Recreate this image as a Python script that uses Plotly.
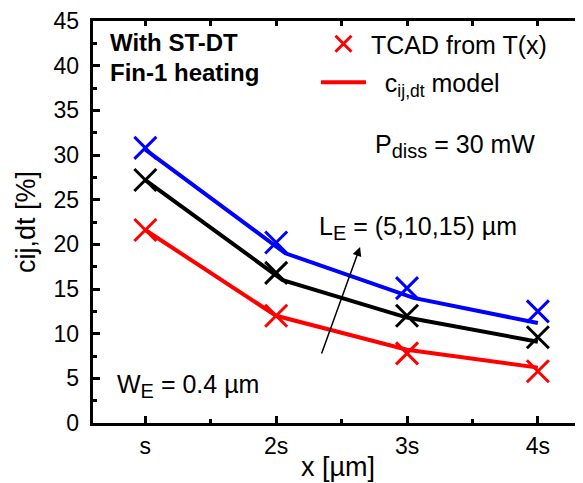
import plotly.graph_objects as go

# ---- data ----
x_labels = ["s", "2s", "3s", "4s"]
x_pos = [1, 2, 3, 4]

tcad_le5 = [21.6, 12.0, 7.8, 5.8]
tcad_le10 = [27.2, 16.8, 12.0, 9.6]
tcad_le15 = [30.8, 20.2, 15.1, 12.5]

model_x_le5 = [1.0, 2.0, 3.0, 4.0]
model_le5 = [21.6, 12.0, 8.2, 6.2]
model_x_le10 = [1.0, 2.05, 3.0, 4.0]
model_le10 = [27.2, 16.0, 11.8, 9.1]
model_x_le15 = [1.0, 2.07, 3.05, 4.0]
model_le15 = [30.6, 19.0, 14.0, 11.2]

FONT = "Liberation Sans, Arial, Helvetica, sans-serif"
RED, BLACK, BLUE = "#ff0000", "#000000", "#0000ff"

fig = go.Figure()

series = [
    (model_x_le5, model_le5, tcad_le5, RED, True),
    (model_x_le10, model_le10, tcad_le10, BLACK, False),
    (model_x_le15, model_le15, tcad_le15, BLUE, False),
]
for i, (mx, my, ty, col, leg) in enumerate(series):
    fig.add_trace(go.Scatter(
        x=mx, y=my, mode="lines",
        line=dict(color=col, width=4),
        name="\u00a0\u00a0c<sub>ij,dt</sub> model",
        showlegend=leg, legendgroup="model", legendrank=2,
    ))
    fig.add_trace(go.Scatter(
        x=x_pos, y=ty, mode="markers",
        marker=dict(symbol="x-thin", size=22, line=dict(color=col, width=3), color=col),
        name="TCAD from T(x)",
        showlegend=leg, legendgroup="tcad", legendrank=1,
    ))

axis_common = dict(
    showline=True, linecolor="black", linewidth=3,
    ticks="inside", tickcolor="black", tickwidth=3,
    tickfont=dict(family=FONT, size=23, color="black"),
    showgrid=False, zeroline=False, automargin=False,
)

# the page body adds an 8px offset; figure sized to fit the 583x483 window
fig.update_layout(
    width=575, height=475,
    margin=dict(l=85, r=0, t=13, b=60),
    paper_bgcolor="white", plot_bgcolor="white",
    font=dict(family=FONT, color="black"),
    xaxis=dict(
        **axis_common,
        range=[0.6, 4.345],
        tickvals=x_pos, ticktext=x_labels, ticklen=7,
        minor=dict(dtick=0.5, tick0=0.5, ticks="inside", ticklen=4, tickwidth=3, tickcolor="black"),
        mirror=True,
        title=dict(text="x [\u00b5m]", font=dict(family=FONT, size=27, color="black"), standoff=0),
    ),
    xaxis2=dict(
        overlaying="x", side="top", anchor="y", range=[0.6, 4.345],
        showline=False, ticks="inside", tickcolor="black", tickwidth=3, ticklen=5,
        tick0=0, dtick=0.5, showticklabels=False, showgrid=False, zeroline=False, automargin=False,
    ),
    yaxis=dict(
        **axis_common,
        range=[0, 45], tick0=0, dtick=5, ticklen=7, ticksuffix="\u00a0",
        minor=dict(dtick=2.5, ticks="inside", ticklen=4, tickwidth=3, tickcolor="black"),
        mirror=False,
        title=dict(text="cij,dt [%]", font=dict(family=FONT, size=27, color="black"), standoff=10),
    ),
    yaxis2=dict(
        overlaying="y", side="right", anchor="x", range=[0, 45],
        showline=False, ticks="inside", tickcolor="black", tickwidth=3, ticklen=3,
        tick0=0, dtick=5, showticklabels=False, showgrid=False, zeroline=False, automargin=False,
    ),
    legend=dict(
        x=0.455, y=1.0, xanchor="left", yanchor="top",
        font=dict(family=FONT, size=25, color="black"),
        bgcolor="rgba(0,0,0,0)", tracegroupgap=3, itemwidth=45,
    ),
)

# invisible trace to activate the secondary axes
fig.add_trace(go.Scatter(x=[None], y=[None], xaxis="x2", yaxis="y2", showlegend=False, hoverinfo="skip"))

ann_font = dict(family=FONT, size=25, color="black")
bold_font = dict(family=FONT, size=24, color="black")
SUB = "<sub><span style='font-size:20px'>{}</span></sub>"
annotations = [
    dict(text="<b>With ST-DT</b>", x=0.718, y=42.6, font=bold_font),
    dict(text="<b>Fin-1 heating</b>", x=0.718, y=39.2, font=bold_font),
    dict(text="P" + SUB.format("diss") + " = 30 mW", x=2.74, y=31.0, font=ann_font),
    dict(text="L" + SUB.format("E") + " = (5,10,15) \u00b5m", x=2.313, y=21.8, font=ann_font),
    dict(text="W" + SUB.format("E") + " = 0.4 \u00b5m", x=0.771, y=4.1, font=ann_font),
]
for a in annotations:
    fig.add_annotation(xref="x", yref="y", xanchor="left", yanchor="middle",
                       showarrow=False, **a)

fig.add_annotation(
    xref="x", yref="y", axref="x", ayref="y",
    x=2.641, y=19.7, ax=2.343, ay=7.6, text="",
    showarrow=True, arrowhead=2, arrowsize=1.2, arrowwidth=1.5, arrowcolor="black",
)

fig.write_html("out.html")
